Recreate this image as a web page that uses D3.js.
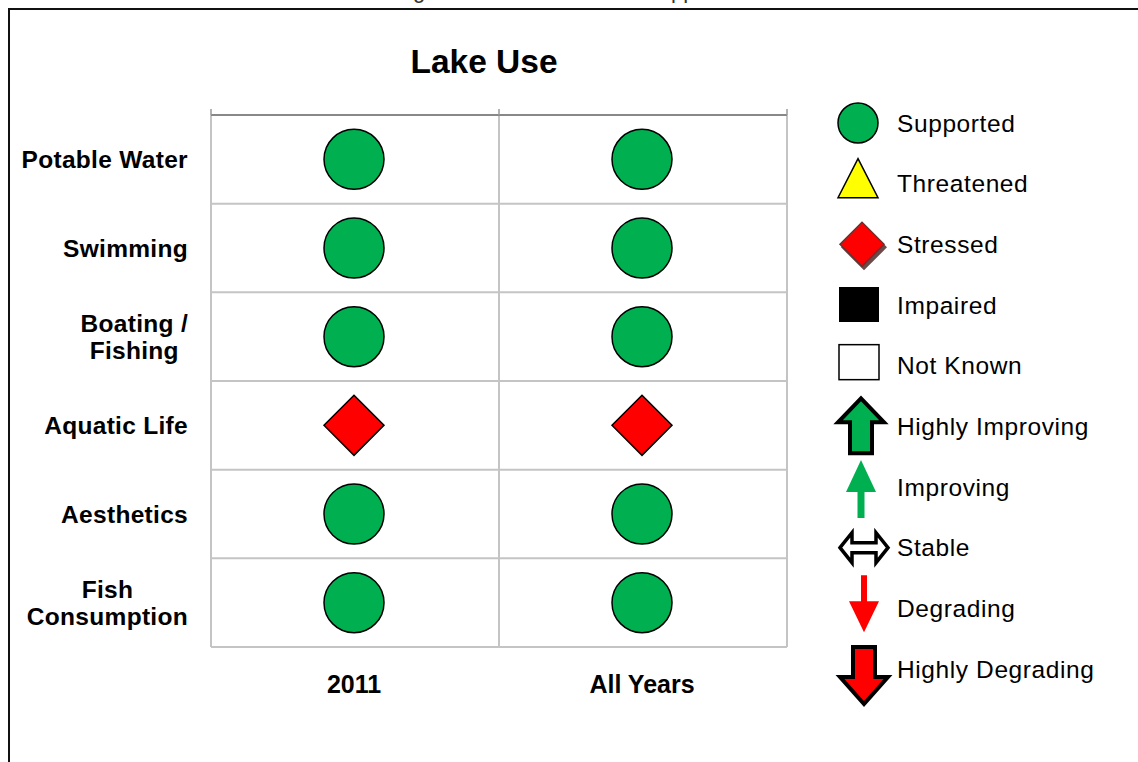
<!DOCTYPE html>
<html lang="en">
<head>
<meta charset="UTF-8">
<script src="https://d3js.org/d3.v7.min.js"></script>
<style>
  body { margin: 0; background: #fff; }
  svg { display: block; font-family: "Liberation Sans", Arial, sans-serif; }
</style>
</head>
<body>
<div id="chart"></div>
<script>
// uses (rows), assessment periods (columns) and the status of each cell
const uses = ["Potable Water", "Swimming", "Boating / Fishing", "Aquatic Life", "Aesthetics", "Fish Consumption"];
const useLines = [["Potable Water"], ["Swimming"], ["Boating /", "Fishing"], ["Aquatic Life"], ["Aesthetics"], ["Fish", "Consumption"]];
const periods = ["2011", "All Years"];
const status2011 = ["Supported", "Supported", "Supported", "Stressed", "Supported", "Supported"];
const statusAllYears = ["Supported", "Supported", "Supported", "Stressed", "Supported", "Supported"];
const legendItems = ["Supported", "Threatened", "Stressed", "Impaired", "Not Known",
                     "Highly Improving", "Improving", "Stable", "Degrading", "Highly Degrading"];

const width = 1138, height = 762;
const svg = d3.select("#chart").append("svg")
    .attr("width", width).attr("height", height);

// cut-off caption line above the frame
svg.append("text")
    .attr("x", 130).attr("y", -2)
    .attr("font-size", 22).attr("fill", "#333")
    .text("Trends are indicated in the legend for these lake use support assessments.");

// frame
svg.append("path")
    .attr("d", "M9,762 V9 H1138")
    .attr("fill", "none").attr("stroke", "#111").attr("stroke-width", 2);

// title
svg.append("text")
    .attr("x", 484).attr("y", 73)
    .attr("text-anchor", "middle").attr("font-size", 33.5).attr("font-weight", "bold")
    .text("Lake Use");

const y = d3.scaleBand().domain(uses).range([115, 647]);
const x = d3.scaleBand().domain(periods).range([211, 787]);

const grid = svg.append("g");
// horizontal grid lines
grid.selectAll("line.h").data(uses.slice(1).concat(["end"]))
  .join("line")
    .attr("x1", 211).attr("x2", 787)
    .attr("y1", d => d === "end" ? y.range()[1] : y(d))
    .attr("y2", d => d === "end" ? y.range()[1] : y(d))
    .attr("stroke", "#c4c4c4").attr("stroke-width", 2);
// vertical grid lines
const xEdges = periods.map(p => x(p)).concat([x.range()[1]]);
grid.selectAll("line.v").data(xEdges)
  .join("line")
    .attr("x1", d => d).attr("x2", d => d)
    .attr("y1", 115).attr("y2", 647)
    .attr("stroke", "#c4c4c4").attr("stroke-width", 2);

// top axis with ticks
const topAxis = svg.append("g").attr("transform", "translate(0,115)");
topAxis.append("line").attr("x1", 211).attr("x2", 787)
    .attr("stroke", "#888").attr("stroke-width", 2);
topAxis.selectAll("line.t").data(xEdges).join("line")
    .attr("x1", d => d).attr("x2", d => d).attr("y1", 0).attr("y2", -6)
    .attr("stroke", "#999").attr("stroke-width", 1.5);

// row labels
const rowLab = svg.append("g");
uses.forEach((u, i) => {
  const lines = useLines[i];
  const cy = y(u) + y.bandwidth() / 2;
  const t = rowLab.append("text")
      .attr("text-anchor", "middle").attr("font-size", 24.5).attr("font-weight", "bold")
      .attr("letter-spacing", 0.3);
  lines.forEach((l, j) => {
    t.append("tspan")
      .attr("x", 0)
      .attr("y", cy + 8.5 + (j - (lines.length - 1) / 2) * 27)
      .text(l);
  });
  // right-align the centred block at x=188
  const bb = t.node().getBBox();
  t.attr("transform", `translate(${188 - bb.width / 2},0)`);
});

// column labels
svg.append("g").selectAll("text").data(periods).join("text")
    .attr("x", d => x(d) + x.bandwidth() / 2 - 1)
    .attr("y", 693)
    .attr("text-anchor", "middle").attr("font-size", 25).attr("font-weight", "bold")
    .text(d => d);

// status symbols
const fills = { Supported: "#00b050", Stressed: "#ff0000", Threatened: "#ffff00", Impaired: "#000", "Not Known": "#fff" };
function symbolPath(s, r) {
  if (s === "Supported") return d3.symbol(d3.symbolCircle, Math.PI * r * r)();
  if (s === "Stressed") return `M0,${-r}L${r},0L0,${r}L${-r},0Z`;
  return d3.symbol(d3.symbolSquare, 4 * r * r)();
}
const cells = [];
periods.forEach((p, ci) => {
  const vals = ci === 0 ? status2011 : statusAllYears;
  uses.forEach((u, ri) => cells.push({ period: p, use: u, status: vals[ri] }));
});
svg.append("g").selectAll("path").data(cells).join("path")
    .attr("transform", d => `translate(${x(d.period) + x.bandwidth() / 2 - 1},${y(d.use) + y.bandwidth() / 2})`)
    .attr("d", d => symbolPath(d.status, 30))
    .attr("fill", d => fills[d.status])
    .attr("stroke", "#000").attr("stroke-width", 1.5);

// legend
const ly = d3.scalePoint().domain(legendItems).range([123, 669]);
const legend = svg.append("g");
const icons = {
  "Supported": g => g.append("circle").attr("cx", -3).attr("r", 20)
      .attr("fill", "#00b050").attr("stroke", "#000").attr("stroke-width", 1.5),
  "Threatened": g => g.append("path").attr("d", "M-3,-25L17,14L-23,14Z")
      .attr("fill", "#ffff00").attr("stroke", "#000").attr("stroke-width", 1.5),
  "Stressed": g => {
    g.append("path").attr("d", "M3,-20L26,3L3,26L-20,3Z").attr("fill", "#6b4a4a");
    g.append("path").attr("d", "M1,-22L23,0L1,22L-21,0Z")
      .attr("fill", "#ff0000").attr("stroke", "#6b3030").attr("stroke-width", 1.5);
  },
  "Impaired": g => g.append("rect").attr("x", -22).attr("y", -18).attr("width", 40).attr("height", 35)
      .attr("fill", "#000"),
  "Not Known": g => g.append("rect").attr("x", -22).attr("y", -21).attr("width", 40).attr("height", 35)
      .attr("fill", "#fff").attr("stroke", "#000").attr("stroke-width", 1.5),
  "Highly Improving": g => g.append("path")
      .attr("d", "M0,-28L23,-4L11,-4L11,27L-11,27L-11,-4L-23,-4Z")
      .attr("fill", "#00b050").attr("stroke", "#000").attr("stroke-width", 4).attr("stroke-linejoin", "miter"),
  "Improving": g => g.append("path")
      .attr("d", "M0,-27L15,5L3.5,5L3.5,31L-3.5,31L-3.5,5L-15,5Z")
      .attr("fill", "#00b050"),
  "Stable": g => g.append("path")
      .attr("d", "M-24,0L-12,-15L-12,-5L12,-5L12,-15L24,0L12,15L12,5L-12,5L-12,15Z")
      .attr("transform", "translate(3,0)")
      .attr("fill", "#fff").attr("stroke", "#000").attr("stroke-width", 3.5),
  "Degrading": g => g.append("path")
      .attr("d", "M-3,-33L3,-33L3,-7L15,-7L0,24L-15,-7L-3,-7Z")
      .attr("transform", "translate(3,0)")
      .attr("fill", "#ff0000"),
  "Highly Degrading": g => g.append("path")
      .attr("d", "M-11,-22L11,-22L11,8L24,8L0,35L-24,8L-11,8Z")
      .attr("transform", "translate(3,0)")
      .attr("fill", "#ff0000").attr("stroke", "#000").attr("stroke-width", 4)
};
legendItems.forEach(item => {
  const g = legend.append("g").attr("transform", `translate(861,${ly(item)})`);
  icons[item](g);
  legend.append("text")
      .attr("x", 897).attr("y", ly(item) + 8.5)
      .attr("font-size", 24.5).attr("letter-spacing", 0.6)
      .text(item);
});
</script>
</body>
</html>
